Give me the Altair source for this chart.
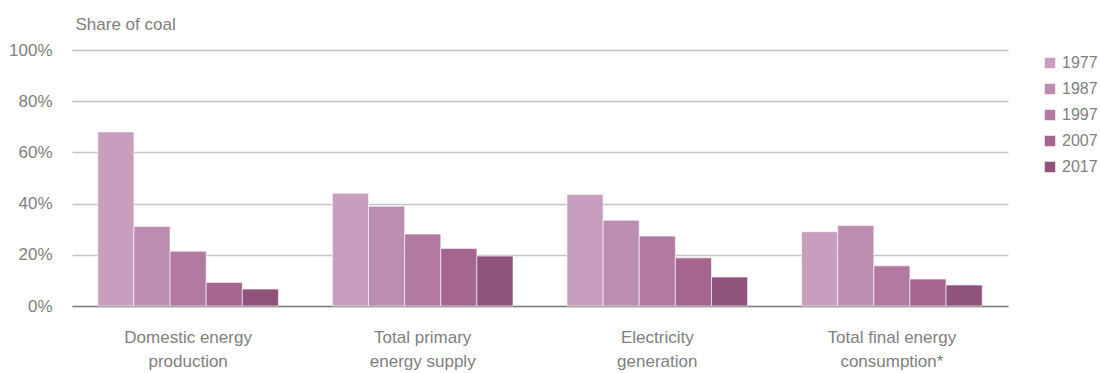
import altair as alt
import pandas as pd

# Share of coal by indicator and year (%)
categories = [
    "Domestic energy\nproduction",
    "Total primary\nenergy supply",
    "Electricity\ngeneration",
    "Total final energy\nconsumption*",
]
years = ["1977", "1987", "1997", "2007", "2017"]
shares = {
    "1977": [68.0, 44.0, 43.6, 29.0],
    "1987": [31.1, 39.0, 33.5, 31.4],
    "1997": [21.4, 28.1, 27.3, 15.7],
    "2007": [9.2, 22.5, 18.8, 10.5],
    "2017": [6.6, 19.5, 11.3, 8.2],
}
palette = ["#c89dbd", "#bc8daf", "#b27aa1", "#a4658e", "#8f527a"]

rows = []
for y in years:
    for c, v in zip(categories, shares[y]):
        rows.append({"category": c, "year": y, "share": v})
df = pd.DataFrame(rows)

FONT = "Liberation Sans"
GREY = "#808080"

chart = (
    alt.Chart(df)
    .mark_bar(stroke="white", strokeWidth=1, strokeOpacity=0.6)
    .encode(
        x=alt.X(
            "category:N",
            sort=categories,
            scale=alt.Scale(paddingInner=0.23, paddingOuter=0.11),
            axis=alt.Axis(
                title=None,
                labelAngle=0,
                labelExpr="split(datum.label, '\\n')",
                labelFont=FONT,
                labelFontSize=17,
                labelColor=GREY,
                labelLineHeight=24,
                labelPadding=23,
                labelBaseline="top",
                ticks=False,
                domainColor="#7f7f7f",
                domainWidth=1.5,
            ),
        ),
        xOffset=alt.XOffset("year:N", sort=years),
        y=alt.Y(
            "share:Q",
            scale=alt.Scale(domain=[0, 100]),
            axis=alt.Axis(
                values=[0, 20, 40, 60, 80, 100],
                labelExpr="datum.value + '%'",
                labelFont=FONT,
                labelFontSize=17,
                labelColor=GREY,
                labelPadding=20,
                ticks=False,
                domain=False,
                gridColor="#c4c4c4",
                gridWidth=1.5,
                title="Share of coal",
                titleAngle=0,
                titleAlign="left",
                titleBaseline="middle",
                titleX=3,
                titleY=-26,
                titleFont=FONT,
                titleFontSize=17,
                titleFontWeight="normal",
                titleColor=GREY,
            ),
        ),
        color=alt.Color(
            "year:N",
            sort=years,
            scale=alt.Scale(domain=years, range=palette),
            legend=alt.Legend(
                title=None,
                orient="none",
                legendX=970,
                legendY=5,
                symbolType="square",
                symbolSize=110,
                symbolStrokeWidth=0,
                labelFont=FONT,
                labelFontSize=16,
                labelColor=GREY,
                labelOffset=4,
                rowPadding=10,
            ),
        ),
    )
    .properties(
        width=936,
        height=256,
        padding={"left": 72, "top": 50, "right": 92, "bottom": 67},
        autosize="none",
    )
    .configure_view(strokeWidth=0)
)

chart.save("out.html", embed_options={"renderer": "svg", "actions": False})
